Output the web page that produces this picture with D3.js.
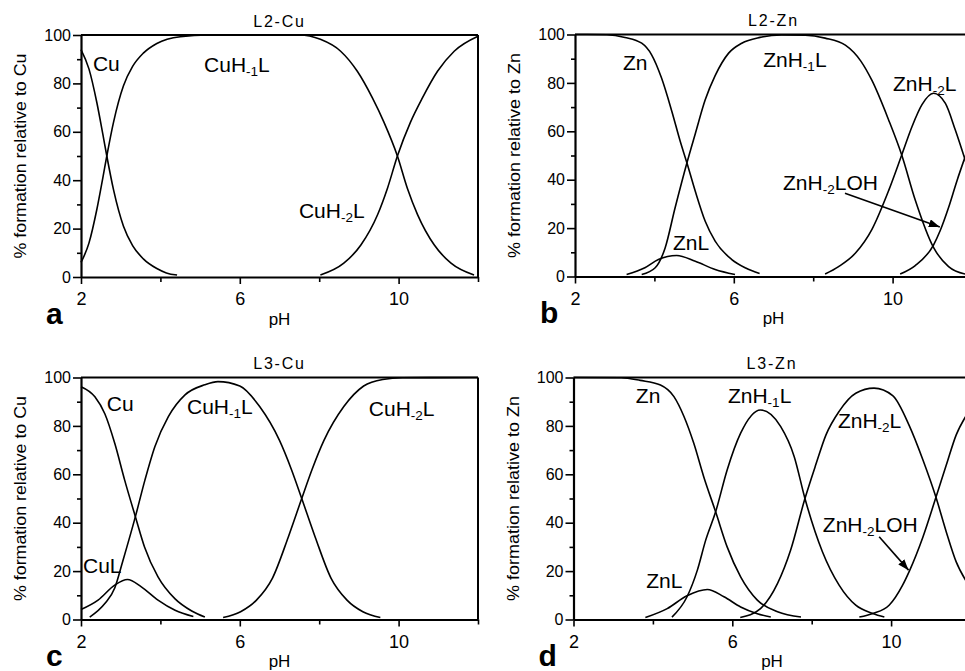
<!DOCTYPE html>
<html>

<head>
    <meta charset="UTF-8">
    <style>
        body { margin: 0; background: #fff; }
        svg { display: block; }
    </style>
</head>

<body>
    <script src="https://d3js.org/d3.v7.min.js"></script>
    <div id="chart"></div>
    <script>
        // tick values
        const pHMajor = [2, 6, 10];
        const pHMinor = [4, 8, 12];
        const pctMajor = [0, 20, 40, 60, 80, 100];
        const pctMinor = [10, 30, 50, 70, 90];

        // panel titles / axis texts
        const titles = ["L2-Cu", "L2-Zn", "L3-Cu", "L3-Zn"];
        const yTitles = ["% formation relative to Cu", "% formation relative to Zn",
                         "% formation relative to Cu", "% formation relative to Zn"];
        const letters = ["a", "b", "c", "d"];

        // species curves, [pH, % formation]
        // a: L2-Cu
        const a_Cu = [[2.0, 94], [2.2, 86], [2.4, 72], [2.55, 59], [2.65, 50], [2.82, 36], [3.07, 21], [3.3, 13], [3.57, 7.5], [3.91, 3.5], [4.15, 1.7], [4.42, 0.8]];
        const a_CuH1L = [[2.0, 6], [2.2, 14], [2.4, 28], [2.55, 41], [2.65, 50], [2.82, 64], [3.07, 79], [3.3, 87], [3.57, 92.5], [3.91, 96.5], [4.5, 99.3], [5.2, 100], [7.5, 100], [8.03, 98.2], [8.54, 93.3], [8.96, 85], [9.34, 74], [9.63, 64], [9.97, 50], [10.22, 36.7], [10.48, 25.7], [10.9, 13.2], [11.32, 5.7], [11.9, 0.8]];
        const a_CuH2L = [[8.03, 0.8], [8.62, 5.7], [9.05, 13.2], [9.47, 25.7], [9.72, 36.7], [9.97, 50], [10.3, 64], [10.6, 74], [10.98, 85], [11.4, 93.3], [12, 99.5]];

        // b: L2-Zn
        const b_Zn = [[2.0, 100], [2.8, 99.9], [3.26, 98.8], [3.68, 96.4], [3.93, 91.6], [4.18, 82], [4.44, 68.2], [4.65, 55.9], [4.82, 46.9], [5.03, 35.2], [5.28, 22.8], [5.53, 14.6], [5.95, 7], [6.3, 3.5], [6.65, 1.2]];
        const b_ZnL = [[3.3, 0.8], [3.76, 3.6], [4.1, 7], [4.56, 8.7], [5.03, 6.3], [5.53, 2.9], [6.03, 0.8]];
        const b_ZnH1L = [[3.68, 0.8], [4.02, 3.6], [4.27, 11.8], [4.52, 28.3], [4.82, 47], [5.03, 59], [5.28, 73], [5.53, 83], [5.87, 92.3], [6.2, 96.4], [6.66, 98.8], [7.2, 99.8], [7.8, 99.7], [8.3, 98.5], [8.81, 95.6], [9.2, 89], [9.48, 81], [9.9, 64.7], [10.23, 50.2], [10.57, 31.6], [11.03, 12], [11.41, 4.1], [11.83, 1]];
        const b_ZnH2L = [[8.3, 1], [8.64, 4.1], [9.06, 9.6], [9.48, 19.5], [9.9, 35.5], [10.23, 50.2], [10.49, 62], [10.74, 71], [11.03, 75.7], [11.33, 71.5], [11.58, 60.5], [11.85, 47]];
        const b_ZnH2LOH = [[10.19, 1], [10.57, 4.5], [11.03, 13], [11.2, 19], [11.41, 28.5], [11.62, 39.5], [11.85, 50.5]];

        // c: L3-Cu
        const c_Cu = [[2.0, 96.2], [2.35, 92], [2.6, 85], [2.85, 72.8], [3.1, 57.6], [3.37, 42.5], [3.6, 30], [3.94, 17.6], [4.37, 8.5], [4.79, 3.5], [5.12, 1]];
        const c_CuL = [[2.0, 4.1], [2.43, 8], [2.85, 14.2], [3.17, 16.5], [3.52, 13.5], [3.94, 8], [4.37, 3.8], [4.83, 1.2]];
        const c_CuH1L = [[2.22, 1], [2.6, 6.6], [2.85, 13], [3.05, 24], [3.37, 42.5], [3.61, 57.6], [3.86, 71.4], [4.2, 83.8], [4.62, 92.8], [5.12, 97], [5.45, 98.3], [6.0, 96.5], [6.5, 88], [7.0, 74], [7.3, 62], [7.56, 50], [7.9, 34], [8.3, 17], [8.7, 8], [9.1, 3.2], [9.54, 0.8]];
        const c_CuH2L = [[5.58, 0.8], [6.02, 3.2], [6.42, 8], [6.82, 17], [7.22, 34], [7.56, 50], [7.82, 62], [8.12, 74], [8.62, 88], [9.12, 96.5], [9.6, 99.2], [10.1, 99.9], [12, 100]];

        // d: L3-Zn
        const d_Zn = [[2.0, 100], [3.2, 99.9], [3.68, 98.8], [4.19, 96.9], [4.53, 92.1], [4.78, 84], [5.03, 72.8], [5.28, 59], [5.58, 44.5], [5.87, 30], [6.21, 17.6], [6.63, 8], [7.14, 3.2], [7.73, 1]];
        const d_ZnL = [[3.81, 0.8], [4.36, 4.5], [4.86, 9.8], [5.37, 12.4], [5.79, 9.4], [6.21, 5.2], [6.63, 2.4], [6.97, 1]];
        const d_ZnH1L = [[4.48, 1], [4.86, 9.4], [5.12, 20.4], [5.33, 32.8], [5.58, 44.5], [5.87, 61.8], [6.21, 77], [6.71, 86.6], [7.22, 79.7], [7.56, 67.3], [7.83, 50], [8.27, 28], [8.69, 14.2], [9.11, 5.9], [9.54, 2.5], [9.83, 1]];
        const d_ZnH2L = [[6.2, 0.8], [6.71, 4.5], [7.14, 14.9], [7.47, 28.7], [7.83, 50], [8.1, 63.8], [8.36, 76.3], [8.69, 86], [9.11, 93.5], [9.57, 95.6], [10.04, 92.5], [10.46, 80], [10.8, 66], [11.13, 50.5], [11.39, 36.2], [11.64, 23.8], [11.9, 15.6]];
        const d_ZnH2LOH = [[9.2, 1], [9.54, 2.5], [9.95, 5.9], [10.29, 14.2], [10.46, 20], [10.8, 34], [11.13, 50.5], [11.39, 63.8], [11.64, 76.3], [11.9, 84.5]];

        // species labels: [main, subscript, tail]
        const a_labels = [["Cu"], ["CuH", "-1", "L"], ["CuH", "-2", "L"]];
        const b_labels = [["Zn"], ["ZnH", "-1", "L"], ["ZnH", "-2", "L"], ["ZnH", "-2", "LOH"], ["ZnL"]];
        const c_labels = [["Cu"], ["CuH", "-1", "L"], ["CuH", "-2", "L"], ["CuL"]];
        const d_labels = [["Zn"], ["ZnH", "-1", "L"], ["ZnH", "-2", "L"], ["ZnH", "-2", "LOH"], ["ZnL"]];

        const FONT = "'Liberation Sans', Arial, Helvetica, sans-serif";
        const W = 397, H = 242;

        // layout of the four panels (label anchors in pH / % units)
        const panels = [
            { left: 81, top: 35, curves: [a_Cu, a_CuH1L, a_CuH2L], labels: a_labels,
              at: [[2.3, 85.2], [5.1, 84.8], [7.49, 24.4]], arrow: null },
            { left: 575, top: 34.5, curves: [b_Zn, b_ZnL, b_ZnH1L, b_ZnH2L, b_ZnH2LOH], labels: b_labels,
              at: [[3.21, 85.3], [6.74, 86.7], [10.01, 76.8], [7.24, 35.7], [4.47, 11]], arrow: [[8.8, 34.4], [11.19, 20.5]] },
            { left: 81, top: 377.5, curves: [c_Cu, c_CuL, c_CuH1L, c_CuH2L], labels: c_labels,
              at: [[2.65, 86.2], [4.67, 84.8], [9.25, 84.1], [2.05, 19.1]], arrow: null },
            { left: 573.5, top: 377.5, curves: [d_Zn, d_ZnL, d_ZnH1L, d_ZnH2L, d_ZnH2LOH], labels: d_labels,
              at: [[3.57, 89.3], [5.89, 89.3], [8.66, 79], [8.28, 36.3], [3.83, 12.9]], arrow: [[9.7, 34.2], [10.44, 20.4]] }
        ];

        const svg = d3.select("#chart")
            .append("svg")
            .attr("width", 965)
            .attr("height", 671)
            .style("font-family", FONT);

        svg.append("defs").append("marker")
            .attr("id", "head")
            .attr("markerUnits", "userSpaceOnUse")
            .attr("markerWidth", 11)
            .attr("markerHeight", 8)
            .attr("refX", 11)
            .attr("refY", 4)
            .attr("orient", "auto")
            .append("path")
            .attr("d", "M0,0 L11,4 L0,8 Z")
            .attr("fill", "#000");

        panels.forEach(function (p, i) {
            const g = svg.append("g").attr("transform", `translate(${p.left}, ${p.top})`);

            const x = d3.scaleLinear().domain([2, 12]).range([0, W]);
            const y = d3.scaleLinear().domain([0, 100]).range([H, 0]);

            // frame top and right
            g.append("line").attr("x1", 0).attr("x2", W).attr("y1", 0).attr("y2", 0)
                .attr("stroke", "#000").attr("stroke-width", 2);
            g.append("line").attr("x1", W).attr("x2", W).attr("y1", 0).attr("y2", H)
                .attr("stroke", "#000").attr("stroke-width", 2);

            // Y axis
            const yMin = g.append("g")
                .call(d3.axisLeft(y).tickValues(pctMinor).tickSize(4).tickFormat("").tickSizeOuter(0));
            yMin.select(".domain").remove();
            const yAx = g.append("g")
                .call(d3.axisLeft(y).tickValues(pctMajor).tickSize(8).tickPadding(2).tickSizeOuter(0));

            // X axis
            const xMin = g.append("g")
                .attr("transform", `translate(0, ${H})`)
                .call(d3.axisBottom(x).tickValues(pHMinor).tickSize(5).tickFormat("").tickSizeOuter(0));
            xMin.select(".domain").remove();
            const xAx = g.append("g")
                .attr("transform", `translate(0, ${H})`)
                .call(d3.axisBottom(x).tickValues(pHMajor).tickSize(7).tickSizeOuter(0));

            [yMin, yAx, xMin, xAx].forEach(function (a) {
                a.selectAll("line").attr("stroke", "#000").attr("stroke-width", 1.6);
                a.select(".domain").attr("stroke", "#000").attr("stroke-width", 2.2);
            });
            yAx.selectAll("text")
                .attr("font-family", FONT).attr("font-size", 16).attr("fill", "#000");
            yAx.attr("font-family", null).attr("font-size", null);
            xAx.attr("font-family", null).attr("font-size", null);
            xAx.selectAll("text")
                .attr("font-family", FONT).attr("font-size", 18).attr("fill", "#000")
                .attr("y", 28).attr("dy", 0);

            // titles
            g.append("text")
                .attr("x", W / 2).attr("y", -8.5)
                .attr("text-anchor", "middle")
                .attr("font-size", 16)
                .attr("letter-spacing", 1.8)
                .text(titles[i]);

            g.append("text")
                .attr("transform", `translate(-55, ${H / 2}) rotate(-90)`)
                .attr("text-anchor", "middle")
                .attr("font-size", 17)
                .attr("textLength", 205)
                .attr("lengthAdjust", "spacingAndGlyphs")
                .text(yTitles[i]);

            g.append("text")
                .attr("x", W / 2).attr("y", H + 47.5)
                .attr("text-anchor", "middle")
                .attr("font-size", 17)
                .text("pH");

            g.append("text")
                .attr("x", -35).attr("y", H + 46.5)
                .attr("font-size", 30)
                .attr("font-weight", "bold")
                .text(letters[i]);

            // curves
            const line = d3.line()
                .x(d => x(d[0]))
                .y(d => y(d[1]))
                .curve(d3.curveMonotoneX);

            g.selectAll("path.curve")
                .data(p.curves)
                .enter()
                .append("path")
                .attr("class", "curve")
                .attr("d", line)
                .attr("fill", "none")
                .attr("stroke", "#000")
                .attr("stroke-width", 1.6);

            // species labels
            p.labels.forEach(function (lab, k) {
                const t = g.append("text")
                    .attr("x", x(p.at[k][0]))
                    .attr("y", y(p.at[k][1]))
                    .attr("font-size", 21);
                t.append("tspan").text(lab[0]);
                if (lab.length > 1) {
                    t.append("tspan").attr("font-size", 13.5).attr("dy", 4).text(lab[1]);
                    t.append("tspan").attr("dy", -4).text(lab[2]);
                }
            });

            if (p.arrow) {
                g.append("line")
                    .attr("x1", x(p.arrow[0][0])).attr("y1", y(p.arrow[0][1]))
                    .attr("x2", x(p.arrow[1][0])).attr("y2", y(p.arrow[1][1]))
                    .attr("stroke", "#000")
                    .attr("stroke-width", 1.6)
                    .attr("marker-end", "url(#head)");
            }
        });
    </script>
</body>

</html>
